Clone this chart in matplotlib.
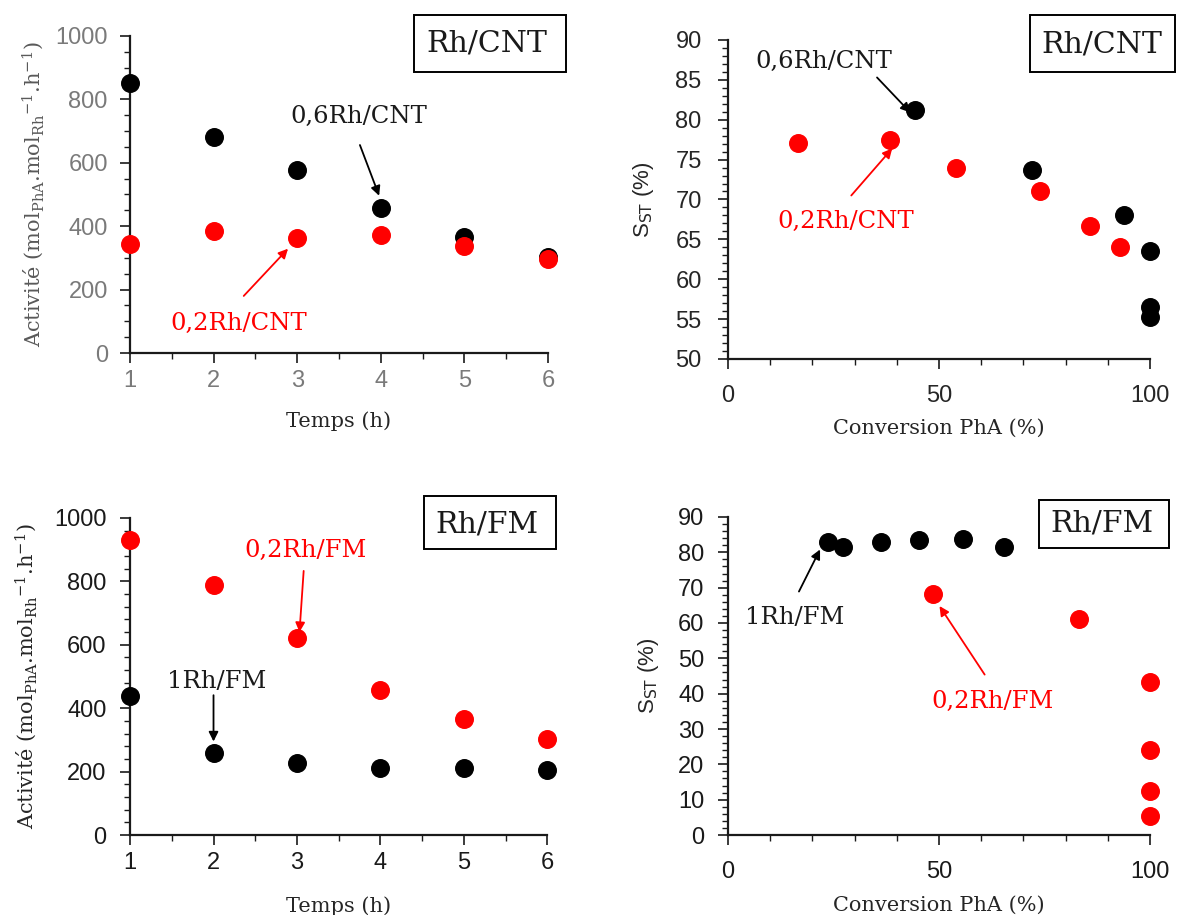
import matplotlib
matplotlib.use("Agg")
import matplotlib.pyplot as plt
from matplotlib.ticker import MultipleLocator
from matplotlib.patches import Rectangle

plt.rcParams['font.family'] = ['Liberation Sans', 'DejaVu Sans']
plt.rcParams['mathtext.fontset'] = 'dejavuserif'

# activity vs time, Rh/CNT
temps = [1, 2, 3, 4, 5, 6]
act_06cnt = [852, 681, 578, 458, 367, 304]
act_02cnt = [344, 385, 363, 372, 339, 298]

# selectivity vs conversion, Rh/CNT
conv_06cnt = [44.3, 71.9, 93.8, 100, 100, 100]
sst_06cnt = [81.2, 73.7, 68.1, 63.6, 56.5, 55.3]
conv_02cnt = [16.5, 38.4, 54.0, 74.0, 85.8, 92.9]
sst_02cnt = [77.1, 77.4, 74.0, 71.0, 66.7, 64.0]

# activity vs time, Rh/FM
act_02fm = [930, 788, 620, 457, 366, 303]
act_1fm = [438, 258, 228, 212, 212, 206]

# selectivity vs conversion, Rh/FM
conv_1fm = [23.8, 27.2, 36.3, 45.3, 55.7, 65.5]
sst_1fm = [83.0, 81.5, 83.0, 83.5, 83.9, 81.5]
conv_02fm = [48.6, 83.1, 100, 100, 100, 100]
sst_02fm = [68.2, 61.1, 43.2, 24.2, 12.4, 5.3]

RED = '#ff0000'
INK = '#1a1a1a'
SERIF = 'DejaVu Serif'
ACT_LABEL = r'Activité (mol$_{\mathrm{PhA}}$.mol$_{\mathrm{Rh}}$$^{\mathrm{-1}}$.h$^{\mathrm{-1}}$)'
SST_LABEL = r'S$_{\mathsf{ST}}$ (%)'

fig = plt.figure(figsize=(11.79, 9.15), dpi=100)
ax1 = fig.add_axes([0.1103, 0.6142, 0.3545, 0.3465])
ax2 = fig.add_axes([0.6175, 0.6077, 0.358, 0.3486])
ax3 = fig.add_axes([0.1103, 0.0874, 0.354, 0.3465])
ax4 = fig.add_axes([0.6175, 0.0874, 0.358, 0.3476])


def style(ax, tickcol, ypad):
    for s in ['top', 'right']:
        ax.spines[s].set_visible(False)
    for s in ['left', 'bottom']:
        ax.spines[s].set_linewidth(1.6)
        ax.spines[s].set_color(INK)
    ax.tick_params(which='major', direction='out', length=7, width=1.2,
                   labelsize=17, colors=INK, labelcolor=tickcol, pad=5)
    ax.tick_params(which='minor', direction='out', length=4, width=1.0,
                   colors=INK)
    ax.tick_params(axis='y', which='major', pad=ypad)


def box(ax, x0, x1, y0, y1, tx, ty, txt):
    ax.add_patch(Rectangle((x0, y0), x1 - x0, y1 - y0, fc='white', ec='black',
                           lw=1.4, clip_on=False, zorder=4))
    ax.text(tx, ty, txt, fontsize=21.5, family=SERIF, ha='center', va='center',
            color=INK, clip_on=False, zorder=5)


def label(ax, x, y, txt, col):
    ax.text(x, y, txt, fontsize=17.5, family=SERIF, ha='center', va='center', color=col)


def arrow(ax, start, tip, col):
    ax.annotate('', xy=tip, xytext=start,
                arrowprops=dict(arrowstyle='-|>', color=col, lw=1.3,
                                mutation_scale=14, shrinkA=0, shrinkB=0))


ms = 160

# top left
ax1.scatter(temps, act_06cnt, s=ms, color='black', zorder=3, clip_on=False)
ax1.scatter(temps, act_02cnt, s=ms, color=RED, zorder=3, clip_on=False)
ax1.set_xlim(1, 6)
ax1.set_ylim(0, 1000)
ax1.xaxis.set_major_locator(MultipleLocator(1))
ax1.xaxis.set_minor_locator(MultipleLocator(0.5))
ax1.yaxis.set_major_locator(MultipleLocator(200))
ax1.yaxis.set_minor_locator(MultipleLocator(50))
style(ax1, '#7a7a7a', 9)
ax1.set_xlabel('Temps (h)', fontsize=15, family=SERIF, color='#262626', labelpad=14)
ax1.set_ylabel(ACT_LABEL, fontsize=15, family=SERIF, color='#595959', labelpad=7)
label(ax1, 3.74, 747, '0,6Rh/CNT', INK)
arrow(ax1, (3.75, 656), (3.98, 496), 'black')
label(ax1, 2.30, 94, '0,2Rh/CNT', RED)
arrow(ax1, (2.36, 180), (2.89, 329), RED)
box(ax1, 4.40, 6.22, 886, 1066, 5.27, 975, 'Rh/CNT')

# top right
ax2.scatter(conv_06cnt, sst_06cnt, s=ms, color='black', zorder=3, clip_on=False)
ax2.scatter(conv_02cnt, sst_02cnt, s=ms, color=RED, zorder=3, clip_on=False)
ax2.set_xlim(0, 100)
ax2.set_ylim(50, 90)
ax2.xaxis.set_major_locator(MultipleLocator(50))
ax2.xaxis.set_minor_locator(MultipleLocator(10))
ax2.yaxis.set_major_locator(MultipleLocator(5))
ax2.yaxis.set_minor_locator(MultipleLocator(1))
style(ax2, '#262626', 12)
ax2.tick_params(axis='x', which='major', pad=12)
ax2.set_xlabel('Conversion PhA (%)', fontsize=15, family=SERIF, color='#262626', labelpad=8)
ax2.set_ylabel(SST_LABEL, fontsize=16, color='#262626', labelpad=14)
label(ax2, 22.8, 87.3, '0,6Rh/CNT', INK)
arrow(ax2, (35.3, 85.3), (43.2, 80.9), 'black')
label(ax2, 27.9, 67.2, '0,2Rh/CNT', RED)
arrow(ax2, (29.2, 70.5), (38.9, 76.4), RED)
box(ax2, 71.6, 105.9, 86.0, 93.1, 88.5, 89.4, 'Rh/CNT')

# bottom left
ax3.scatter(temps, act_02fm, s=ms, color=RED, zorder=3, clip_on=False)
ax3.scatter(temps, act_1fm, s=ms, color='black', zorder=3, clip_on=False)
ax3.set_xlim(1, 6)
ax3.set_ylim(0, 1000)
ax3.xaxis.set_major_locator(MultipleLocator(1))
ax3.xaxis.set_minor_locator(MultipleLocator(0.5))
ax3.yaxis.set_major_locator(MultipleLocator(200))
ax3.yaxis.set_minor_locator(MultipleLocator(40))
style(ax3, INK, 10)
ax3.set_xlabel('Temps (h)', fontsize=15, family=SERIF, color='#262626', labelpad=16)
ax3.set_ylabel(ACT_LABEL, fontsize=15, family=SERIF, color='#262626', labelpad=11)
label(ax3, 3.10, 898, '0,2Rh/FM', RED)
arrow(ax3, (3.08, 833), (3.03, 640), RED)
label(ax3, 2.04, 485, '1Rh/FM', INK)
arrow(ax3, (2.0, 441), (2.0, 295), 'black')
box(ax3, 4.52, 6.10, 901, 1069, 5.28, 979, 'Rh/FM')

# bottom right
ax4.scatter(conv_1fm, sst_1fm, s=ms, color='black', zorder=3, clip_on=False)
ax4.scatter(conv_02fm, sst_02fm, s=ms, color=RED, zorder=3, clip_on=False)
ax4.set_xlim(0, 100)
ax4.set_ylim(0, 90)
ax4.xaxis.set_major_locator(MultipleLocator(50))
ax4.xaxis.set_minor_locator(MultipleLocator(10))
ax4.yaxis.set_major_locator(MultipleLocator(10))
ax4.yaxis.set_minor_locator(MultipleLocator(2))
style(ax4, INK, 10)
ax4.tick_params(axis='x', which='major', pad=12)
ax4.set_xlabel('Conversion PhA (%)', fontsize=15, family=SERIF, color='#262626', labelpad=9)
ax4.set_ylabel(SST_LABEL, fontsize=16, color='#262626', labelpad=12)
label(ax4, 15.8, 61.6, '1Rh/FM', INK)
arrow(ax4, (16.8, 68.9), (21.8, 80.8), 'black')
label(ax4, 62.6, 37.9, '0,2Rh/FM', RED)
arrow(ax4, (60.8, 45.4), (50.1, 64.8), RED)
box(ax4, 73.6, 104.4, 81.1, 94.7, 88.6, 88.2, 'Rh/FM')

fig.savefig('out.png', dpi=100)
